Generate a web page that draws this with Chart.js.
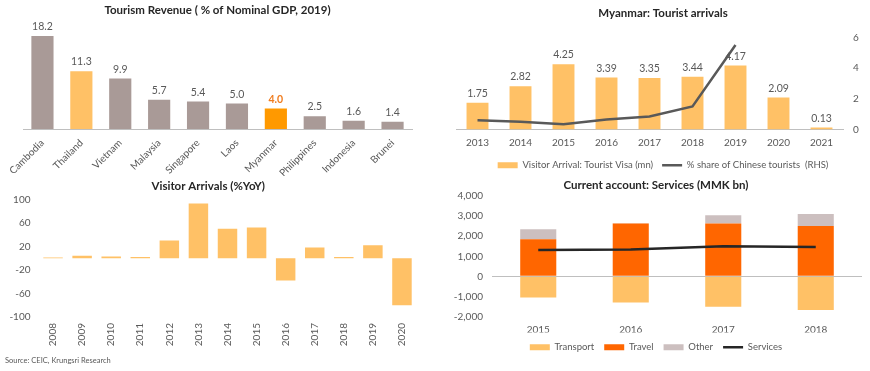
<!DOCTYPE html>
<html>
<head>
<meta charset="utf-8">
<script src="https://cdn.jsdelivr.net/npm/chart.js@4"></script>
<style>
  body { margin: 0; background: #fff; width: 870px; height: 371px; position: relative; overflow: hidden; font-family: Lato, sans-serif; }
  canvas { position: absolute; }
  #source { position: absolute; left: 5px; top: 356px; font-size: 7.5px; color: #595959; }
</style>
</head>
<body>
<canvas id="revenue-chart" width="430" height="176" style="left:0;top:0"></canvas>
<canvas id="arrivals-chart" width="435" height="180" style="left:435px;top:0"></canvas>
<canvas id="yoy-chart" width="430" height="180" style="left:0;top:172px"></canvas>
<canvas id="services-chart" width="435" height="190" style="left:435px;top:172px"></canvas>
<div id="source">Source: CEIC, Krungsri Research</div>

<script>
// data //

const revenueCountries = ["Cambodia", "Thailand", "Vietnam", "Malaysia", "Singapore", "Laos", "Myanmar", "Philippines", "Indonesia", "Brunei"];
const revenueShare = [18.2, 11.3, 9.9, 5.7, 5.4, 5.0, 4.0, 2.5, 1.6, 1.4];

const arrivalYears = ["2013", "2014", "2015", "2016", "2017", "2018", "2019", "2020", "2021"];
const touristVisa = [1.75, 2.82, 4.25, 3.39, 3.35, 3.44, 4.17, 2.09, 0.13];
const chineseShare = [0.6, 0.5, 0.35, 0.65, 0.85, 1.5, 5.5, null, null];

const yoyYears = ["2008", "2009", "2010", "2011", "2012", "2013", "2014", "2015", "2016", "2017", "2018", "2019", "2020"];
const yoyGrowth = [1, 4, 3, 2, 30, 93, 50, 52, -38, 18, 2, 22, -80];

const servicesYears = ["2015", "2016", "2017", "2018"];
const transport = [-1050, -1300, -1510, -1670];
const travel = [1850, 2630, 2640, 2510];
const other = [500, 15, 410, 600];
const services = [1320, 1340, 1500, 1460];

// shared look //

Chart.defaults.font.family = 'Lato';
Chart.defaults.font.size = 10;
Chart.defaults.color = '#595959';
Chart.defaults.animation = false;
Chart.defaults.plugins.tooltip.enabled = false;

const axisGrey = '#BFBFBF';
const lightOrange = '#FFC166';

function titleOpts(text, top, bottom) {
  return {
    display: true,
    text: text,
    color: '#262626',
    font: { size: 11.5, weight: 'bold' },
    padding: { top: top, bottom: bottom }
  };
}

// writes the value on top of each bar of the first dataset
const valueLabels = {
  id: 'valueLabels',
  afterDatasetsDraw(chart, args, opts) {
    const ctx = chart.ctx;
    const meta = chart.getDatasetMeta(0);
    const values = chart.data.datasets[0].data;
    ctx.save();
    ctx.textAlign = 'center';
    ctx.textBaseline = 'bottom';
    meta.data.forEach((bar, i) => {
      const special = opts.highlight && opts.highlight[i];
      ctx.fillStyle = special ? opts.highlightColor : '#595959';
      ctx.font = (special ? 'bold ' : '') + '10.5px Lato';
      ctx.fillText(values[i].toFixed(opts.decimals), bar.x, bar.y - 4);
    });
    ctx.restore();
  }
};

// Tourism revenue chart //

const revenueColors = {
  Thailand: lightOrange,
  Myanmar: '#FF9900'
};

new Chart(document.querySelector('#revenue-chart'), {
  type: 'bar',
  data: {
    labels: revenueCountries,
    datasets: [{
      data: revenueShare,
      backgroundColor: revenueCountries.map(c => revenueColors[c] || '#A99A97'),
      barPercentage: 0.57,
      categoryPercentage: 1
    }]
  },
  options: {
    responsive: false,
    layout: { padding: { left: 23, right: 18 } },
    scales: {
      x: {
        grid: { display: false, drawTicks: false },
        border: { color: axisGrey },
        ticks: { minRotation: 45, maxRotation: 45, autoSkip: false, padding: 8 },
        afterFit(scale) { scale.height = 47; }
      },
      y: { display: false, min: 0, max: 20 }
    },
    plugins: {
      legend: { display: false },
      title: titleOpts('Tourism Revenue ( % of Nominal GDP, 2019)', 3, 10),
      valueLabels: {
        decimals: 1,
        highlight: revenueCountries.map(c => c === 'Myanmar'),
        highlightColor: '#F07C1E'
      }
    }
  },
  plugins: [valueLabels]
});

// Myanmar tourist arrivals chart //

new Chart(document.querySelector('#arrivals-chart'), {
  type: 'bar',
  data: {
    labels: arrivalYears,
    datasets: [{
      label: 'Visitor Arrival: Tourist Visa (mn)',
      data: touristVisa,
      backgroundColor: lightOrange,
      barPercentage: 0.51,
      categoryPercentage: 1,
      pointStyle: 'rect',
      yAxisID: 'y'
    }, {
      type: 'line',
      label: '% share of Chinese tourists  (RHS)',
      data: chineseShare,
      borderColor: '#595959',
      backgroundColor: '#595959',
      borderWidth: 2.5,
      pointRadius: 0,
      pointStyle: 'line',
      order: -1,
      yAxisID: 'y1'
    }]
  },
  options: {
    responsive: false,
    layout: { padding: { left: 21 } },
    scales: {
      x: {
        grid: { display: false, drawTicks: false },
        border: { color: axisGrey },
        ticks: { padding: 7 },
        afterFit(scale) { scale.height = 22; }
      },
      y: { display: false, min: 0, max: 6 },
      y1: {
        position: 'right',
        min: 0,
        max: 6,
        grid: { display: false, drawTicks: false },
        border: { display: false },
        ticks: { stepSize: 2, padding: 10 },
        afterFit(scale) { scale.width = 27; }
      }
    },
    plugins: {
      title: titleOpts('Myanmar: Tourist arrivals', 6, 17.6),
      legend: {
        position: 'bottom',
        labels: {
          usePointStyle: true,
          pointStyleWidth: 20,
          boxHeight: 6,
          padding: 9,
          font: { size: 9.5 },
          sort: (a, b) => a.datasetIndex - b.datasetIndex
        }
      },
      valueLabels: { decimals: 2 }
    }
  },
  plugins: [valueLabels]
});

// Visitor arrivals yoy chart //

new Chart(document.querySelector('#yoy-chart'), {
  type: 'bar',
  data: {
    labels: yoyYears,
    datasets: [{
      data: yoyGrowth,
      backgroundColor: lightOrange,
      barPercentage: 0.67,
      categoryPercentage: 1
    }]
  },
  options: {
    responsive: false,
    layout: { padding: { right: 13.5 } },
    scales: {
      x: {
        grid: { display: false, drawTicks: false },
        border: { display: false },
        ticks: { minRotation: 90, maxRotation: 90, autoSkip: false, padding: 6 },
        afterFit(scale) { scale.height = 35; }
      },
      y: {
        min: -100,
        max: 100,
        grid: {
          drawTicks: false,
          color: c => c.tick.value === 0 ? axisGrey : 'transparent'
        },
        border: { display: false },
        ticks: { stepSize: 40, padding: 8 },
        afterFit(scale) { scale.width = 38.5; }
      }
    },
    plugins: {
      legend: { display: false },
      title: titleOpts('Visitor Arrivals (%YoY)', 7, 6.6)
    }
  }
});

// Current account services chart //

new Chart(document.querySelector('#services-chart'), {
  type: 'bar',
  data: {
    labels: servicesYears,
    datasets: [{
      label: 'Transport',
      data: transport,
      backgroundColor: lightOrange,
      stack: 'svc'
    }, {
      label: 'Travel',
      data: travel,
      backgroundColor: '#FF6600',
      stack: 'svc'
    }, {
      label: 'Other',
      data: other,
      backgroundColor: '#CCBFBF',
      stack: 'svc'
    }, {
      type: 'line',
      label: 'Services',
      data: services,
      borderColor: '#262626',
      backgroundColor: '#262626',
      borderWidth: 2.5,
      pointRadius: 0,
      pointStyle: 'line',
      stack: 'net',
      order: -1
    }].map(ds => ds.type ? ds : Object.assign(ds, { barPercentage: 0.39, categoryPercentage: 1, pointStyle: 'rect' }))
  },
  options: {
    responsive: false,
    layout: { padding: { left: 15, right: 8 } },
    scales: {
      x: {
        stacked: true,
        grid: { display: false, drawTicks: false },
        border: { display: false },
        ticks: { padding: 7 },
        afterFit(scale) { scale.height = 16; }
      },
      y: {
        stacked: true,
        min: -2000,
        max: 4000,
        grid: {
          drawTicks: false,
          color: c => c.tick.value === 0 ? axisGrey : 'transparent'
        },
        border: { display: false },
        ticks: { stepSize: 1000, padding: 9 },
        afterFit(scale) { scale.width = 42; }
      }
    },
    plugins: {
      title: titleOpts('Current account: Services (MMK bn)', 6, 4.3),
      legend: {
        position: 'bottom',
        labels: {
          usePointStyle: true,
          pointStyleWidth: 20,
          boxHeight: 6,
          padding: 10,
          font: { size: 9.5 },
          sort: (a, b) => a.datasetIndex - b.datasetIndex
        }
      }
    }
  }
});
</script>
</body>
</html>
